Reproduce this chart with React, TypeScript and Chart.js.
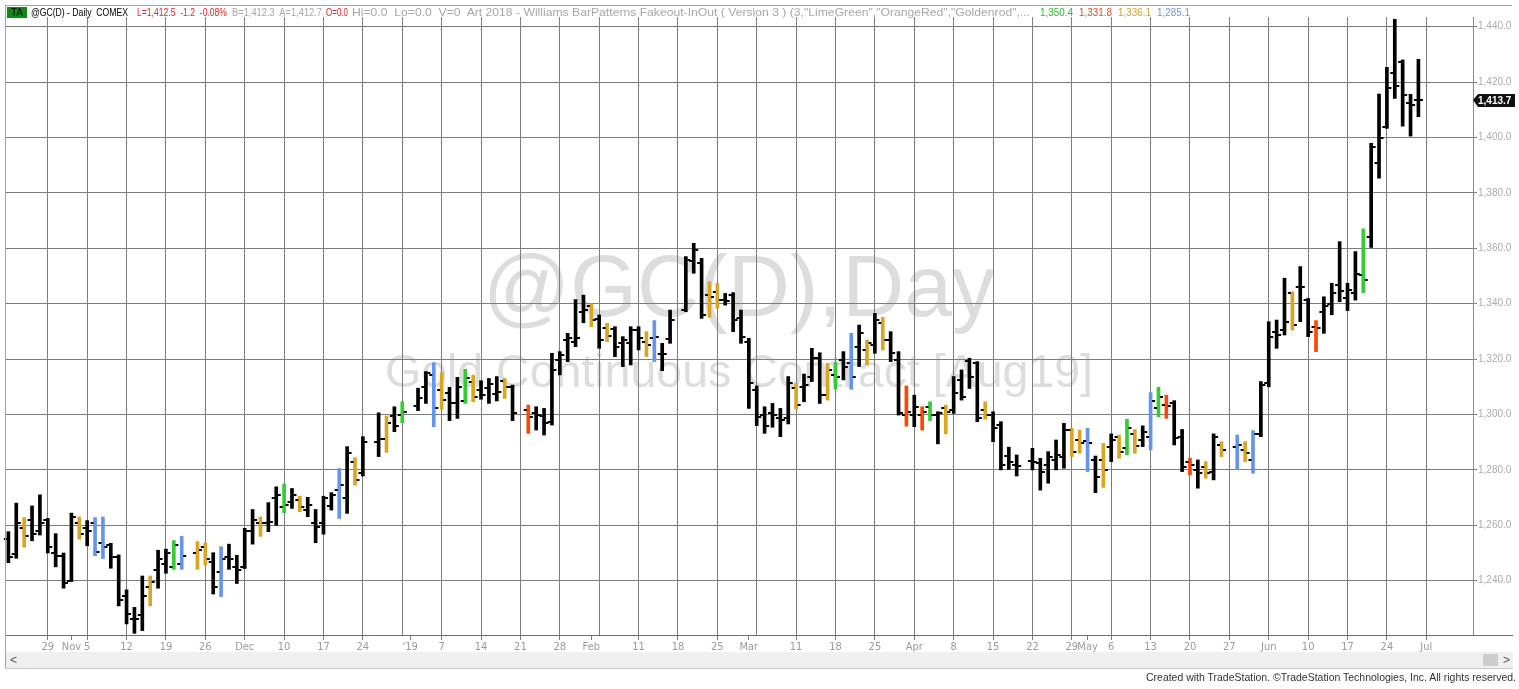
import React, { useEffect, useLayoutEffect, useRef } from "react";
import { Chart, registerables } from "chart.js";

Chart.register(...registerables);

// ---------------- DATA (daily bars, index 0 = 22 Oct 2018; null = holiday slot) ----------------
const opens: (number | null)[] = [
  1255, 1249.5, 1259, 1262, 1258, 1262, 1250, 1249, 1240, 1261,
  1259, 1261, 1253.5, 1253, 1248.7, 1234.3, 1226, 1227.6, 1237.9, 1244,
  1246, 1245, 1246, null, 1250, 1252, 1246.8, 1243, 1248.7, 1245,
  1245, 1258, 1261, 1260.7, 1270, 1266.7, 1268.5, 1269, 1265.5, 1260.7,
  1260.7, 1267, 1272.7, 1270, 1283, 1279, null, 1290, 1291, 1299.5,
  1300, null, 1303, 1310, 1314.3, 1308.8, 1307.6, 1304, 1305, 1311.9,
  1308.8, 1309.5, 1307.4, 1312, 1310, null, 1301.6, 1300.6, 1299.5, 1297.4,
  1319.7, 1326.9, 1326, 1337.1, 1339.2, 1334.3, 1331.1, 1330.7, 1325.7, 1325.9,
  1330.5, 1326.3, 1327.5, 1322, 1327.1, null, 1337.7, 1355.5, 1354.6, 1343.1,
  1344.3, 1341.3, 1343, 1335, 1326, 1309, 1299.8, 1300.4, 1298.6, 1298.6,
  1309.4, 1310, 1313.7, 1320.3, 1307, 1314.3, 1319.7, 1318.5, 1324.5, 1323.3,
  1325.1, 1333, 1326.9, 1319.7, 1300, 1300, 1299.8, 1302.6, 1299.8, 1302.2,
  1301.6, 1312.5, 1319.4, 1318.5, 1301.6, 1299.8, 1296.2, 1285, 1281.8, null,
  1283.3, 1282.4, 1281.8, 1283.6, 1284.8, 1294.4, 1290.8, 1290.6, 1283.6, 1283.6,
  1288.4, 1292, 1287.8, 1293, 1290.8, 1292, 1302.2, 1303.4, 1304, 1292,
  1283, 1280, 1281.2, 1279.4, 1289, null, 1288.4, 1287.2, 1283.6, 1293,
  1311.2, 1329.9, 1330.5, 1343.7, 1346.1, 1341.3, 1331.7, 1337.1, 1340, 1346.8,
  1342, 1343.7, 1350.4, 1364.2, 1390.9, 1403.7, 1423.4, 1427.4, 1412.6, 1413.5,
];

const highs: (number | null)[] = [
  1257.7, 1268, 1262.8, 1267, 1271, 1262.5, 1257, 1250, 1264.4, 1263,
  1261.7, 1262.8, 1263, 1253.5, 1249.3, 1236.7, 1230.4, 1241.7, 1241.7, 1251,
  1251.4, 1254.5, 1256, null, 1254.1, 1253.7, 1250.1, 1252.3, 1253.2, 1249.2,
  1258.9, 1265.7, 1263, 1268.2, 1273.9, 1274.9, 1273.3, 1270.5, 1270.1, 1265.7,
  1270.5, 1271.8, 1280.5, 1288.4, 1284.4, 1292, null, 1300.6, 1299.5, 1302.8,
  1304.6, null, 1309.5, 1315.5, 1318.7, 1315.1, 1309.8, 1313.4, 1316.3, 1314.2,
  1312.2, 1313, 1313.7, 1313, 1310.6, null, 1303.4, 1302.8, 1302.2, 1322.1,
  1322.7, 1329.3, 1341.5, 1343.1, 1339.9, 1335.9, 1332.9, 1331.7, 1328.1, 1331.7,
  1331.7, 1329.9, 1333.9, 1325.7, 1337.7, null, 1357, 1361.8, 1356.4, 1348,
  1347.3, 1343.7, 1344, 1337.7, 1327.5, 1310.3, 1302.8, 1304, 1302.2, 1313.7,
  1311.2, 1314.6, 1323.9, 1322.3, 1318.5, 1318.7, 1322.7, 1329.3, 1332.3, 1326.9,
  1336.5, 1335.1, 1329.9, 1322.7, 1310.3, 1307, 1302.8, 1304.6, 1301, 1303.4,
  1313.7, 1316.1, 1320.3, 1319.1, 1304.6, 1301, 1297.4, 1288.2, 1285.4, null,
  1287.8, 1284.2, 1286.6, 1290.8, 1296.8, 1295, 1294.4, 1295, 1285, 1289.6,
  1293, 1292.6, 1298.3, 1294.6, 1295.9, 1307.9, 1309.8, 1307, 1305, 1294.6,
  1284.2, 1283.6, 1283, 1293, 1290.2, null, 1292.6, 1290.2, 1294.2, 1311.9,
  1333.5, 1334.1, 1349.2, 1344.3, 1353.4, 1341.9, 1333.9, 1342.5, 1347.4, 1362.4,
  1347.4, 1358.8, 1367, 1397.9, 1415.7, 1425.3, 1442.7, 1428, 1415.6, 1428.2,
];

const lows: (number | null)[] = [
  1246.5, 1248.1, 1252.1, 1254.4, 1256.5, 1250, 1245, 1237.3, 1239.7, 1255,
  1252.6, 1249, 1248, 1244.5, 1230.9, 1224.4, 1221, 1222, 1230.9, 1237.3,
  1242.7, 1244.1, 1244.1, null, 1244.1, 1245.6, 1235.2, 1234.2, 1244.1, 1239,
  1244.4, 1253.2, 1256, 1257.7, 1260, 1264.5, 1266.1, 1264.9, 1263.1, 1253.7,
  1256.8, 1265.5, 1262.5, 1264.3, 1274.5, 1277.8, null, 1284.8, 1286.3, 1293.8,
  1297, null, 1301.4, 1304, 1295.6, 1301.9, 1297.8, 1298.6, 1304, 1304.6,
  1305.5, 1304, 1304.9, 1305.8, 1297.8, null, 1293.2, 1294.4, 1292.6, 1296.2,
  1314.3, 1319.1, 1324.5, 1333.1, 1331.7, 1323.9, 1326.3, 1320.9, 1317.3, 1317.9,
  1323.3, 1320.9, 1319.1, 1315.8, 1325.7, null, 1337.1, 1351, 1334.7, 1335.1,
  1338.3, 1339.5, 1329.9, 1325.7, 1302.2, 1296, 1293.2, 1295.4, 1292, 1296.6,
  1301.9, 1304.6, 1311.9, 1304, 1305.2, 1309.1, 1312.5, 1309.1, 1317.3, 1317.9,
  1322.1, 1323.3, 1319.1, 1299.8, 1295.8, 1295.6, 1294.4, 1297.8, 1289.4, 1293,
  1300.4, 1305.2, 1309.4, 1297.4, 1298.3, 1290.2, 1280, 1280.2, 1277.8, null,
  1280, 1272.7, 1275.2, 1280, 1280.6, 1284.8, 1286, 1279.4, 1271.8, 1273.7,
  1283, 1284.2, 1285.4, 1286, 1288.4, 1287.2, 1299.2, 1298.6, 1289, 1279.4,
  1278.2, 1273.4, 1277, 1276.4, 1284.8, null, 1280.2, 1283, 1278.8, 1292,
  1310, 1323.9, 1328.7, 1330.5, 1333.5, 1328.1, 1322.7, 1329.3, 1336, 1340.7,
  1337.5, 1341.3, 1344, 1360.3, 1385.3, 1403.3, 1414.1, 1404.1, 1400.5, 1407.5,
];

const closes: (number | null)[] = [
  1248.5, 1261, 1256, 1257, 1261, 1252, 1249, 1239, 1263, 1257,
  1258, 1250.5, 1252, 1248.7, 1233, 1228, 1226, 1234.3, 1239.7, 1248,
  1250, 1253, 1249, null, 1251, 1248, 1237.8, 1248, 1248, 1243.8,
  1258, 1262, 1260.7, 1261.3, 1271, 1267.4, 1270.9, 1266.7, 1267.3, 1259.5,
  1269.7, 1271, 1274.5, 1286.2, 1276.3, 1290.2, null, 1291, 1297, 1296,
  1301, null, 1305.8, 1315, 1302.2, 1305.2, 1304, 1310, 1313, 1306.4,
  1307, 1311, 1308, 1310, 1300.4, null, 1299, 1300, 1296.8, 1316.1,
  1321.5, 1327.5, 1327.5, 1337.7, 1334.1, 1326.9, 1328.3, 1324.5, 1326.9, 1330.5,
  1327.5, 1325.1, 1328.1, 1322, 1334.1, null, 1355.8, 1359.4, 1335.9, 1342.5,
  1341.3, 1341, 1334.1, 1328.1, 1311.2, 1299, 1295.8, 1299.8, 1298, 1311.2,
  1303.4, 1310.6, 1320.3, 1307, 1316, 1313.7, 1317.3, 1313.7, 1329.3, 1325.9,
  1334.1, 1326.9, 1322.1, 1300.6, 1301, 1302.8, 1301, 1299.8, 1300.4, 1301,
  1307.6, 1306.2, 1313.7, 1298.6, 1299.8, 1295.3, 1281.8, 1283, 1281.4, null,
  1283, 1279.4, 1284.8, 1285.4, 1294.4, 1286.6, 1289.6, 1289.6, 1277.6, 1280,
  1290.8, 1286.6, 1295.3, 1288.6, 1293.8, 1305, 1306.4, 1303.1, 1291.4, 1281.2,
  1281.8, 1278.8, 1278.8, 1292, 1287.2, null, 1289, 1286, 1293, 1310.6,
  1328.1, 1328.7, 1333.5, 1332.3, 1346, 1329.9, 1331.2, 1339, 1344, 1344.6,
  1344.9, 1350.7, 1348.6, 1396.7, 1399.9, 1418, 1418.6, 1415.4, 1411.7, 1413.7,
];

// bar pattern per bar: k = plain, g = LimeGreen, r = OrangeRed, y = Goldenrod, b = CornflowerBlue
const patterns: string[] = (
  "kkykkkkkky" + "kbbkkkkkyk" + "kgb-yykbkk" + "kkykkgkykk" + "kkbkyk-kyk" +
  "g-kkbykkgy" + "kkkyk-rkkk" + "kkkkykykkk" + "kybkk-kkky" + "ykkkkkkkkk" +
  "ykkkygkbky" + "kykkrkrgky" + "kkkkykkkk-" + "kkkkkyybky" + "kygykbgrkk" +
  "rkyky-bybk" + "kkkykkrkkk" + "kkgkkkkkkk"
).split("");

const xTickIndex = [5, 8, 10, 15, 20, 25, 30, 35, 40, 45, 51, 55, 60, 65, 70, 74, 80, 85, 90, 94,
  100, 105, 110, 115, 120, 125, 130, 135, 137, 140, 145, 150, 155, 160, 165, 170, 175, 180];
const xTickText = ["29", "Nov", "5", "12", "19", "26", "Dec", "10", "17", "24", "'19", "7", "14", "21", "28", "Feb",
  "11", "18", "25", "Mar", "11", "18", "25", "Apr", "8", "15", "22", "29", "May", "6", "13", "20", "27", "Jun",
  "10", "17", "24", "Jul"];
const weekStartIndex = [5, 10, 15, 20, 25, 30, 35, 40, 45, 50, 55, 60, 65, 70, 75, 80, 85, 90, 95, 100,
  105, 110, 115, 120, 125, 130, 135, 140, 145, 150, 155, 160, 165, 170, 175, 180];
const yTicks = [1240, 1260, 1280, 1300, 1320, 1340, 1360, 1380, 1400, 1420, 1440];

const headerSegments = [
  { text: "@GC(D) - Daily  COMEX", x: 31, w: 97, color: "#000000" },
  { text: "L=1,412.5  -1.2  -0.08%", x: 137, w: 90, color: "#e8231d" },
  { text: "B=1,412.3  A=1,412.7", x: 232, w: 90, color: "#a8a8a8" },
  { text: "O=0.0", x: 326, w: 22, color: "#e8231d" },
  { text: "Hi=0.0  Lo=0.0  V=0  Art 2018 - Williams BarPatterns Fakeout-InOut ( Version 3 ) (3,\"LimeGreen\",\"OrangeRed\",\"Goldenrod\",...", x: 352, w: 678, color: "#a8a8a8" },
  { text: "1,350.4", x: 1040, w: 33, color: "#2eb82e" },
  { text: "1,331.8", x: 1079, w: 33, color: "#f0481a" },
  { text: "1,336.1", x: 1118, w: 33, color: "#d4a02a" },
  { text: "1,285.1", x: 1157, w: 33, color: "#6d96e6" },
];

// ---------------- STYLE ----------------
const PATTERN_COLORS: Record<string, string> = {
  k: "#000000",
  g: "#32CD32",
  r: "#FF4500",
  y: "#DAA520",
  b: "#6495ED",
};
const GRID = "#7d7d7d";
const X_MIN = -0.432;
const X_MAX = 185.93;
const Y_MIN = 1220.4;
const Y_MAX = 1443.5;
const SANS = '"Liberation Sans", Arial, sans-serif';
const NARROW = '"Liberation Sans Narrow", "DejaVu Sans Condensed", "Liberation Sans", Arial, sans-serif';

function fmt1(v: number) {
  return v.toLocaleString("en-US", { minimumFractionDigits: 1, maximumFractionDigits: 1 });
}

function FitText(props: { text: string; x: number; y: number; w: number; h: number; color: string; size: number; weight?: string }) {
  const ref = useRef<HTMLSpanElement>(null);
  useLayoutEffect(() => {
    const el = ref.current;
    if (!el) return;
    el.style.transform = "none";
    const natural = el.getBoundingClientRect().width;
    if (natural > 0) el.style.transform = `scaleX(${props.w / natural})`;
  }, [props.text, props.w]);
  return (
    <span
      ref={ref}
      style={{
        position: "absolute",
        left: props.x,
        top: props.y,
        height: props.h,
        lineHeight: `${props.h}px`,
        fontSize: props.size,
        fontFamily: SANS,
        fontWeight: props.weight || "normal",
        color: props.color,
        whiteSpace: "pre",
        transformOrigin: "0 0",
      }}
    >
      {props.text}
    </span>
  );
}

export default function App() {
  const canvasRef = useRef<HTMLCanvasElement>(null);

  useEffect(() => {
    const canvas = canvasRef.current;
    if (!canvas) return;
    const idx = highs.map((_, i) => i).filter((i) => highs[i] != null && lows[i] != null);
    const barData = idx.map((i) => ({ x: i, y: [lows[i] as number, highs[i] as number] }));
    const barColors = idx.map((i) => PATTERN_COLORS[patterns[i]] || "#000");
    const labelMap = new Map<number, string>(xTickIndex.map((v, k) => [v, xTickText[k]]));
    const gridSet = new Set(weekStartIndex);
    const xTickValues = Array.from(new Set([...xTickIndex, ...weekStartIndex])).sort((a, b) => a - b);

    const lastIdx = idx[idx.length - 1];
    const lastClose = closes[lastIdx] as number;

    const watermark = {
      id: "watermark",
      beforeDraw(chart: any) {
        const ctx = chart.ctx as CanvasRenderingContext2D;
        const draw = (text: string, left: number, baseline: number, width: number, size: number) => {
          ctx.save();
          ctx.font = `${size}px ${SANS}`;
          const w = ctx.measureText(text).width;
          ctx.translate(left, baseline);
          ctx.scale(width / w, 1);
          ctx.fillStyle = "#dddddd";
          ctx.textBaseline = "alphabetic";
          ctx.fillText(text, 0, 0);
          ctx.restore();
        };
        draw("@GC(D),Day", 483, 316, 512, 88);
        draw("Gold Continuous Contract [Aug19]", 385, 387, 708, 46);
      },
    };

    const ohlcTicks = {
      id: "ohlcTicks",
      afterDatasetsDraw(chart: any) {
        const ctx = chart.ctx as CanvasRenderingContext2D;
        const xs = chart.scales.x;
        const ys = chart.scales.y;
        ctx.save();
        ctx.fillStyle = "#000000";
        for (const i of idx) {
          const px = xs.getPixelForValue(i);
          const o = opens[i];
          const c = closes[i];
          if (o != null) {
            const yo = Math.round(ys.getPixelForValue(o));
            ctx.fillRect(px - 4.5, yo - 1, 3, 2);
          }
          if (c != null) {
            const yc = Math.round(ys.getPixelForValue(c));
            ctx.fillRect(px + 1.5, yc - 1, 3, 2);
          }
        }
        ctx.restore();
      },
    };

    const lastPrice = {
      id: "lastPrice",
      afterDraw(chart: any) {
        const ctx = chart.ctx as CanvasRenderingContext2D;
        const ys = chart.scales.y;
        const y = Math.round(ys.getPixelForValue(lastClose));
        const x0 = chart.chartArea.right;
        ctx.save();
        ctx.fillStyle = "#111111";
        ctx.beginPath();
        ctx.moveTo(x0, y);
        ctx.lineTo(x0 + 5, y - 6);
        ctx.lineTo(x0 + 42, y - 6);
        ctx.lineTo(x0 + 42, y + 7);
        ctx.lineTo(x0 + 5, y + 7);
        ctx.closePath();
        ctx.fill();
        ctx.fillStyle = "#ffffff";
        ctx.font = `bold 10px ${SANS}`;
        ctx.textBaseline = "middle";
        ctx.textAlign = "left";
        ctx.fillText(fmt1(lastClose), x0 + 5, y + 1);
        ctx.restore();
      },
    };

    const chart = new Chart(canvas, {
      type: "bar",
      data: {
        datasets: [
          {
            data: barData as any,
            backgroundColor: barColors,
            borderWidth: 0,
            barThickness: 3,
            grouped: false,
          } as any,
        ],
      },
      options: {
        animation: false,
        responsive: false,
        devicePixelRatio: 1,
        layout: { padding: { left: 5, top: 17, right: 6, bottom: 37 } },
        plugins: { legend: { display: false }, tooltip: { enabled: false } },
        scales: {
          x: {
            type: "linear",
            min: X_MIN,
            max: X_MAX,
            offset: false,
            afterBuildTicks: (scale: any) => {
              scale.ticks = xTickValues.map((v) => ({ value: v }));
            },
            afterFit: (scale: any) => {
              scale.height = 17;
            },
            grid: {
              offset: false,
              color: (ctx: any) => (ctx.tick && gridSet.has(ctx.tick.value) ? GRID : "rgba(0,0,0,0)"),
              tickColor: (ctx: any) => (ctx.tick && labelMap.has(ctx.tick.value) ? GRID : "rgba(0,0,0,0)"),
              tickLength: 5,
              lineWidth: 1,
            },
            border: { color: "#6e6e6e", width: 1 },
            ticks: {
              autoSkip: false,
              maxRotation: 0,
              minRotation: 0,
              padding: 1,
              color: "#9a9a9a",
              font: { family: NARROW, size: 11 },
              callback: (value: any) => labelMap.get(Number(value)) ?? "",
            },
          },
          y: {
            type: "linear",
            position: "right",
            min: Y_MIN,
            max: Y_MAX,
            afterBuildTicks: (scale: any) => {
              scale.ticks = yTicks.map((v) => ({ value: v }));
            },
            afterFit: (scale: any) => {
              scale.width = 40;
            },
            grid: { color: GRID, tickLength: 4, lineWidth: 1 },
            border: { color: "#8a8a8a", width: 1 },
            ticks: {
              padding: 1,
              color: "#ababab",
              font: { family: SANS, size: 10 },
              callback: (value: any) => fmt1(Number(value)),
            },
          },
        },
      } as any,
      plugins: [watermark, ohlcTicks, lastPrice],
    });
    return () => chart.destroy();
  }, []);

  return (
    <div
      style={{
        position: "fixed",
        left: 0,
        top: 0,
        width: 1519,
        height: 689,
        background: "#ffffff",
        overflow: "hidden",
        fontFamily: SANS,
      }}
    >
      <canvas
        ref={canvasRef}
        width={1519}
        height={689}
        style={{ position: "absolute", left: 0, top: 0, width: 1519, height: 689 }}
      />
      {/* frame */}
      <div style={{ position: "absolute", left: 5, top: 5, width: 1507, height: 1, background: "#a3a3a3" }} />
      <div style={{ position: "absolute", left: 5, top: 5, width: 1, height: 664, background: "#a3a3a3" }} />
      <div style={{ position: "absolute", left: 5, top: 668, width: 1508, height: 1, background: "#c8c8c8" }} />
      <div style={{ position: "absolute", left: 1473, top: 635, width: 40, height: 1, background: "#6e6e6e" }} />
      {/* header */}
      <div
        style={{
          position: "absolute",
          left: 7,
          top: 7,
          width: 20,
          height: 11,
          background: "#0f8a17",
          color: "#0a0a0a",
          fontSize: 10,
          lineHeight: "11px",
          textAlign: "center",
          fontFamily: SANS,
        }}
      >
        TA
      </div>
      {headerSegments.map((s, k) => (
        <FitText key={k} text={s.text} x={s.x} y={6} w={s.w} h={13} color={s.color} size={11} />
      ))}
      {/* scrollbar */}
      <div style={{ position: "absolute", left: 6, top: 652, width: 1507, height: 16, background: "#f0f0f0" }} />
      <div style={{ position: "absolute", left: 1483, top: 654, width: 15, height: 12, background: "#cdcdcd" }} />
      <div style={{ position: "absolute", left: 10, top: 652, height: 16, lineHeight: "16px", fontSize: 12, color: "#555", fontFamily: SANS }}>&lt;</div>
      <div style={{ position: "absolute", left: 1503, top: 652, height: 16, lineHeight: "16px", fontSize: 12, color: "#555", fontFamily: SANS }}>&gt;</div>
      {/* footer */}
      <FitText
        text="Created with TradeStation. ©TradeStation Technologies, Inc. All rights reserved."
        x={1146}
        y={670}
        w={370}
        h={14}
        color="#333333"
        size={11}
      />
    </div>
  );
}
